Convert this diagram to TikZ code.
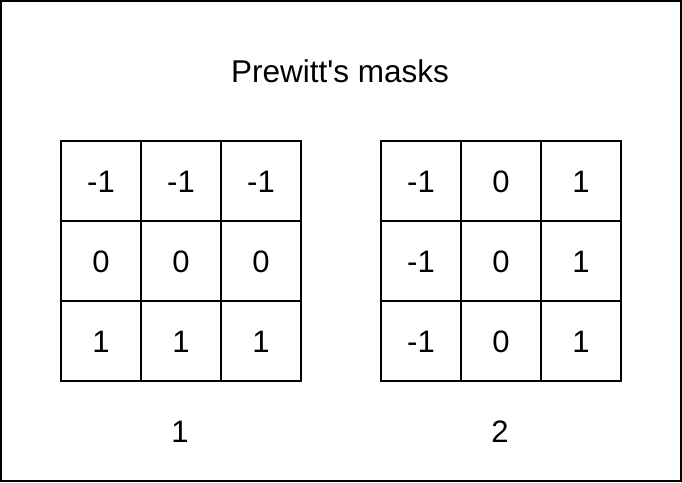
\documentclass[tikz,border=0pt]{standalone}
\usepackage{fontspec}
\setmainfont{Liberation Sans}[Ligatures=TeXOff]
\begin{document}
\begin{tikzpicture}[x=1pt,y=-1pt,
  cellbox/.style={draw=black,line width=2pt,minimum width=80pt,minimum height=80pt,inner sep=0pt},
  val/.style={anchor=base,font=\fontsize{31}{37}\selectfont,inner sep=0pt},
  lbl/.style={anchor=base,font=\fontsize{31}{37}\selectfont,inner sep=0pt}]
\useasboundingbox (0,0) rectangle (682,482);
\node[draw=black,line width=2pt,minimum width=680pt,minimum height=480pt,inner sep=0pt] (frame) at (341,241) {};
\node[lbl,font=\fontsize{31.5}{37}\selectfont] (title) at (340,82) {Prewitt\textquotesingle s masks};
% grid 1
\foreach \r/\a/\b/\c [count=\i] in {0/-1/-1/-1,1/0/0/0,2/1/1/1}{
  \foreach \v [count=\j] in {\a,\b,\c}{
    \node[cellbox] (A\i\j) at ({61+80*(\j-1)+40},{141+80*\r+40}) {};
    \node[val] (a\i\j) at ({61+80*(\j-1)+40},{141+80*\r+51}) {\v};
  }
}
% grid 2
\foreach \r/\a/\b/\c [count=\i] in {0/-1/0/1,1/-1/0/1,2/-1/0/1}{
  \foreach \v [count=\j] in {\a,\b,\c}{
    \node[cellbox] (B\i\j) at ({381+80*(\j-1)+40},{141+80*\r+40}) {};
    \node[val] (b\i\j) at ({381+80*(\j-1)+40},{141+80*\r+51}) {\v};
  }
}
\node[lbl] (l1) at (180,442) {1};
\node[lbl] (l2) at (500,442) {2};
\end{tikzpicture}
\end{document}
